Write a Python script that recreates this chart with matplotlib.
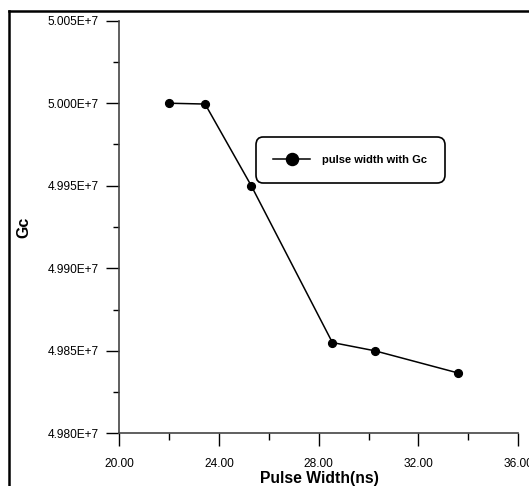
import matplotlib
matplotlib.use("Agg")
import matplotlib.pyplot as plt
from matplotlib.ticker import MultipleLocator, FuncFormatter, FormatStrFormatter
from matplotlib.lines import Line2D

plt.rcParams['font.family'] = ['Liberation Sans', 'DejaVu Sans']

# Data
pulse_width = [22.0, 23.45, 25.3, 28.55, 30.25, 33.6]
gc = [5.0000e7, 4.99995e7, 4.9950e7, 4.98550e7, 4.98500e7, 4.98365e7]
series_label = "pulse width with Gc"
x_label = "Pulse Width(ns)"
y_label = "Gc"

W, H = 529, 486
fig = plt.figure(figsize=(W / 100, H / 100), dpi=100)
ax = fig.add_axes([119 / W, 1 - 433.3 / H, (518.3 - 119) / W, (433.3 - 20.7) / H])

ax.plot(pulse_width, gc, color='black', lw=1.1, marker='o', ms=5.6,
        markerfacecolor='black', markeredgecolor='black', label=series_label,
        clip_on=False)

ax.set_xlim(20, 36)
ax.set_ylim(4.980e7, 5.005e7)
ax.xaxis.set_major_locator(MultipleLocator(4))
ax.xaxis.set_minor_locator(MultipleLocator(2))
ax.yaxis.set_major_locator(MultipleLocator(0.005e7))
ax.yaxis.set_minor_locator(MultipleLocator(0.0025e7))
ax.xaxis.set_major_formatter(FormatStrFormatter('%.2f'))
ax.yaxis.set_major_formatter(FuncFormatter(lambda v, p: f"{v / 1e7:.3f}E+7"))

for s in ['top', 'right']:
    ax.spines[s].set_visible(False)
for s in ['left', 'bottom']:
    ax.spines[s].set_color('#444444')
    ax.spines[s].set_linewidth(1.2)

ax.tick_params(axis='both', which='major', direction='out', length=9.2, width=1,
               color='black', labelsize=8.6)
ax.tick_params(axis='x', which='major', pad=8.5)
ax.tick_params(axis='y', which='major', pad=5.3)
ax.tick_params(axis='x', which='minor', direction='out', length=5.2, width=1, color='black')
ax.tick_params(axis='y', which='minor', direction='out', length=4.1, width=1, color='black')

fig.text(319 / W, 1 - 483.3 / H, x_label, ha='center', va='baseline',
         fontsize=11.3, fontweight='bold')
fig.text(24 / W, 0.5 * ((1 - 433.3 / H) + (1 - 20.7 / H)), y_label, rotation=90,
         ha='center', va='center', fontsize=11.5, fontweight='bold')

leg = ax.legend(loc='upper left', bbox_to_anchor=(255.7 / W, 1 - 137.3 / H),
                bbox_transform=fig.transFigure, borderaxespad=0,
                prop={'size': 8, 'weight': 'bold'}, handlelength=3.3,
                handletextpad=1.05, borderpad=1.6, markerscale=1.55,
                fancybox=True, framealpha=1, edgecolor='black')
frame = leg.get_frame()
frame.set_linewidth(1.2)
frame.set_boxstyle('round,pad=0,rounding_size=0.7')

# outer frame (left and top edges visible)
fig.add_artist(Line2D([9 / W, 9 / W], [0, 1 - 11 / H], color='black', lw=1.8,
                      transform=fig.transFigure))
fig.add_artist(Line2D([9 / W, 1], [1 - 11 / H, 1 - 11 / H], color='black', lw=1.8,
                      transform=fig.transFigure))

fig.savefig('out.png', dpi=100)
